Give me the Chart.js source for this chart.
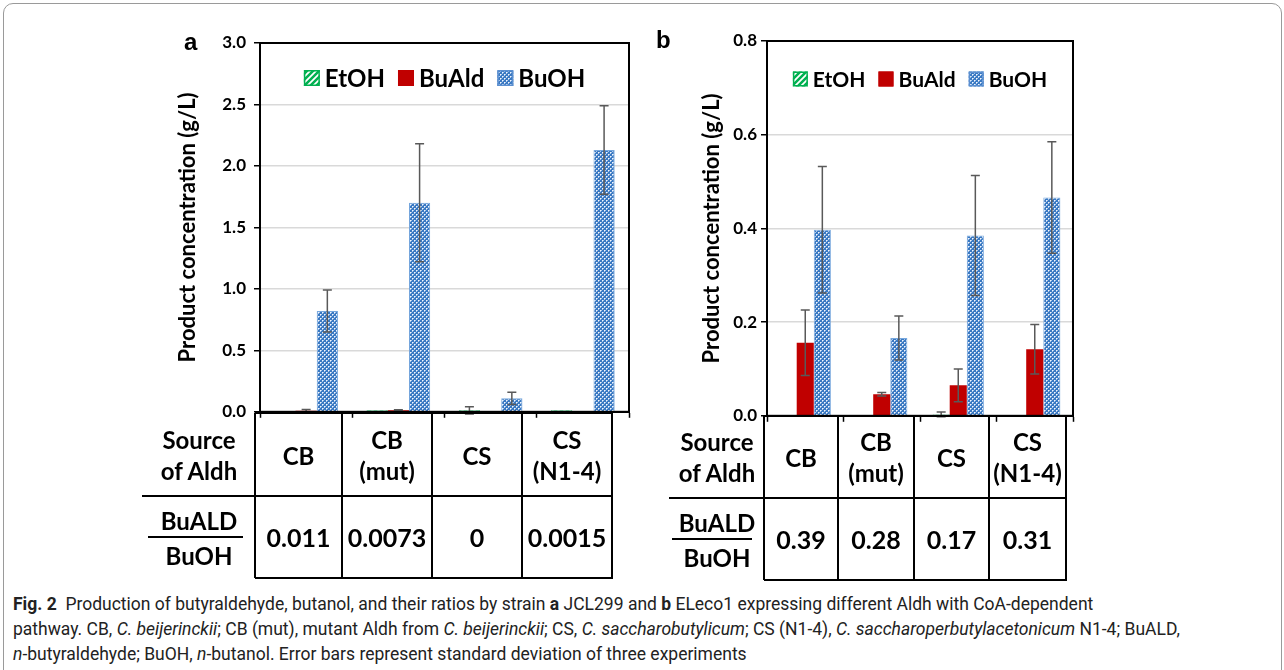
<!DOCTYPE html>
<html>
<head>
<meta charset="utf-8">
<script src="https://cdn.jsdelivr.net/npm/chart.js@4.4.1/dist/chart.umd.min.js"></script>
<style>
  body { margin: 0; background: #fff; width: 1284px; height: 670px; overflow: hidden; position: relative; font-family: Lato, sans-serif; }
  .frame { position: absolute; left: 3px; top: 3px; width: 1277px; height: 690px; border: 1px solid #9a9a9a; border-radius: 10px; }
  canvas { position: absolute; top: 0; }
  .t { position: absolute; font-weight: bold; color: #000; white-space: pre-line; text-align: center; line-height: 31px; transform: translate(-50%, -50%); }
  .ln { position: absolute; background: #000; }
  .panel { position: absolute; font-family: "Liberation Sans", Arial, sans-serif; font-weight: bold; font-size: 24px; }
  .cap { position: absolute; left: 13px; font-family: Roboto, sans-serif; font-size: 17.5px; color: #222; white-space: nowrap; }
</style>
</head>
<body>
<div class="frame"></div>
<canvas id="chartA" width="500" height="430" style="left:150px"></canvas>
<canvas id="chartB" width="440" height="430" style="left:650px"></canvas>
<div class="panel" style="left:184px;top:28px">a</div>
<div class="panel" style="left:656px;top:26px">b</div>
<div id="tables"></div>
<div class="cap" style="top:594px"><b>Fig. 2</b>&nbsp; Production of butyraldehyde, butanol, and their ratios by strain <b>a</b> JCL299 and <b>b</b> ELeco1 expressing different Aldh with CoA-dependent</div>
<div class="cap" style="top:619px">pathway. CB, <i>C. beijerinckii</i>; CB (mut), mutant Aldh from <i>C. beijerinckii</i>; CS, <i>C. saccharobutylicum</i>; CS (N1-4), <i>C. saccharoperbutylacetonicum</i> N1-4; BuALD,</div>
<div class="cap" style="top:644px"><i>n</i>-butyraldehyde; BuOH, <i>n</i>-butanol. Error bars represent standard deviation of three experiments</div>
<script>
const categories = ['CB', 'CB (mut)', 'CS', 'CS (N1-4)'];
const tableLabels = ['CB', 'CB\n(mut)', 'CS', 'CS\n(N1-4)'];
const seriesNames = ['EtOH', 'BuAld', 'BuOH'];

// panel a, strain JCL299 (g/L)
const etohA = [0.0, 0.012, 0.012, 0.012];
const etohErrA = [0, 0, 0.03, 0];
const buAldA = [0.009, 0.012, 0, 0.003];
const buAldErrA = [0.01, 0.005, 0, 0];
const buohA = [0.82, 1.70, 0.11, 2.13];
const buohErrA = [0.17, 0.48, 0.05, 0.36];
const ratioA = ['0.011', '0.0073', '0', '0.0015'];

// panel b, strain ELeco1 (g/L)
const etohB = [0, 0, 0.003, 0];
const etohErrB = [0, 0, 0.005, 0];
const buAldB = [0.156, 0.046, 0.065, 0.142];
const buAldErrB = [0.07, 0.004, 0.035, 0.053];
const buohB = [0.397, 0.166, 0.385, 0.466];
const buohErrB = [0.135, 0.047, 0.128, 0.119];
const ratioB = ['0.39', '0.28', '0.17', '0.31'];

const GREEN = '#00b050';
const RED = '#c00000';
const BLUE = '#3a79c2';

function dotPattern() {
    const c = document.createElement('canvas');
    c.width = 4; c.height = 4;
    const g = c.getContext('2d');
    g.fillStyle = BLUE;
    g.fillRect(0, 0, 4, 4);
    g.fillStyle = '#f2f6fc';
    g.fillRect(0, 0, 1, 1);
    g.fillRect(2, 2, 1, 1);
    g.fillStyle = '#a9c6ea';
    g.fillRect(1, 0, 1, 1);
    g.fillRect(0, 1, 1, 1);
    g.fillRect(3, 2, 1, 1);
    g.fillRect(2, 3, 1, 1);
    return g.createPattern(c, 'repeat');
}

function stripePattern() {
    const c = document.createElement('canvas');
    c.width = 6; c.height = 6;
    const g = c.getContext('2d');
    g.fillStyle = '#fff';
    g.fillRect(0, 0, 6, 6);
    g.strokeStyle = GREEN;
    g.lineWidth = 2.5;
    g.beginPath();
    g.moveTo(-1, 7); g.lineTo(7, -1);
    g.moveTo(-4, 4); g.lineTo(4, -4);
    g.moveTo(2, 10); g.lineTo(10, 2);
    g.stroke();
    return g.createPattern(c, 'repeat');
}

const errorBars = {
    id: 'errorBars',
    afterDatasetsDraw(chart, args, opts) {
        const ctx = chart.ctx;
        const y = chart.scales.y;
        ctx.save();
        ctx.strokeStyle = '#595959';
        ctx.lineWidth = 1.5;
        chart.data.datasets.forEach((ds, i) => {
            const meta = chart.getDatasetMeta(i);
            meta.data.forEach((bar, j) => {
                const e = ds.errors[j];
                if (!e) return;
                const v = ds.data[j];
                const top = y.getPixelForValue(v + e);
                const bot = y.getPixelForValue(v - e);
                ctx.beginPath();
                ctx.moveTo(bar.x, top); ctx.lineTo(bar.x, bot);
                ctx.moveTo(bar.x - 4.5, top); ctx.lineTo(bar.x + 4.5, top);
                ctx.moveTo(bar.x - 4.5, bot); ctx.lineTo(bar.x + 4.5, bot);
                ctx.stroke();
            });
        });
        ctx.restore();
    }
};

const boxAndLegend = {
    id: 'boxAndLegend',
    afterDraw(chart, args, opts) {
        const ctx = chart.ctx;
        const a = chart.chartArea;
        ctx.save();
        ctx.strokeStyle = '#000';
        ctx.lineWidth = 2;
        ctx.strokeRect(a.left, a.top, a.right - a.left, a.bottom - a.top);

        ctx.font = 'bold ' + opts.fontSize + 'px Lato';
        ctx.textBaseline = 'middle';
        const box = opts.box, gap = 5, space = 13;
        const items = chart.data.datasets.map(ds => ({ds, w: box + gap + ctx.measureText(ds.label).width}));
        const total = items.reduce((s, it) => s + it.w, 0) + space * (items.length - 1);
        let x = (a.left + a.right) / 2 - total / 2;
        const yc = opts.y;
        items.forEach(it => {
            ctx.fillStyle = it.ds.backgroundColor;
            ctx.fillRect(x, yc - box / 2, box, box);
            ctx.strokeStyle = it.ds.legendBorder;
            ctx.lineWidth = 1.5;
            ctx.strokeRect(x + 0.75, yc - box / 2 + 0.75, box - 1.5, box - 1.5);
            ctx.fillStyle = '#000';
            ctx.fillText(it.ds.label, x + box + gap, yc + 1);
            x += it.w + space;
        });
        ctx.restore();
    }
};

function makeChart(id, sets, o) {
    const datasets = sets.map((s, i) => ({
        label: seriesNames[i],
        data: s.data,
        errors: s.err,
        backgroundColor: [stripePattern(), RED, dotPattern()][i],
        borderColor: [GREEN, RED, '#76a7dd'][i],
        legendBorder: [GREEN, RED, '#5b8fd0'][i],
        borderWidth: i === 1 ? 0 : 1,
        categoryPercentage: o.catPct,
        barPercentage: 1.0
    }));
    return new Chart(document.getElementById(id), {
        type: 'bar',
        data: {labels: categories, datasets: datasets},
        plugins: [errorBars, boxAndLegend],
        options: {
            responsive: false,
            animation: false,
            devicePixelRatio: 1,
            layout: {padding: o.padding},
            plugins: {
                legend: {display: false},
                tooltip: {enabled: false},
                boxAndLegend: {fontSize: o.legendSize, box: o.legendBox, y: o.legendY}
            },
            scales: {
                x: {
                    ticks: {display: false},
                    grid: {offset: true, drawOnChartArea: false, tickLength: 6, tickColor: '#000', tickWidth: 1.5},
                    border: {color: '#000', width: 2},
                    afterFit: s => { s.height = o.xHeight; }
                },
                y: {
                    min: 0,
                    max: o.max,
                    ticks: {
                        stepSize: o.step,
                        padding: o.tickPad,
                        color: '#000',
                        font: {family: 'Lato', weight: 'bold', size: 17},
                        callback: v => v.toFixed(1)
                    },
                    grid: {color: '#d9d9d9', lineWidth: 1.5, tickColor: '#000', tickLength: 6, tickWidth: 1.5},
                    border: {color: '#000', width: 2},
                    title: {
                        display: true,
                        text: 'Product concentration (g/L)',
                        color: '#000',
                        padding: 2,
                        font: {family: 'Lato', weight: 'bold', size: 22}
                    },
                    afterFit: s => { s.width = o.yWidth; }
                }
            }
        }
    });
}

// tables under each panel
function addLine(x, y, w, h) {
    const d = document.createElement('div');
    d.className = 'ln';
    d.style.cssText = `left:${x}px;top:${y}px;width:${w}px;height:${h}px`;
    document.getElementById('tables').appendChild(d);
}
function addText(txt, x, y, size) {
    const d = document.createElement('div');
    d.className = 't';
    d.textContent = txt;
    d.style.cssText = `left:${x}px;top:${y}px;font-size:${size}px`;
    document.getElementById('tables').appendChild(d);
}
function buildTable(x0, cols, rows, ratios, frac) {
    const last = cols[cols.length - 1];
    cols.forEach(c => addLine(c - 1, rows[0], 2, rows[2] - rows[0]));
    addLine(cols[0], rows[0] - 1, last - cols[0] + 1, 2);
    addLine(x0, rows[1] - 1, last - x0 + 1, 2);
    addLine(cols[0], rows[2] - 1, last - cols[0] + 1, 2);
    const mid0 = (rows[0] + rows[1]) / 2, mid1 = (rows[1] + rows[2]) / 2;
    addText('Source\nof Aldh', frac.cx, mid0, 24);
    addText('BuALD', frac.cx, mid1 - 17, 24);
    addText('BuOH', frac.cx, mid1 + 18, 24);
    addLine(frac.x1, mid1 - 1, frac.x2 - frac.x1, 2);
    for (let i = 0; i < 4; i++) {
        const cx = (cols[i] + cols[i + 1]) / 2;
        addText(tableLabels[i], cx, mid0, 24);
        addText(ratios[i], cx, mid1, 25);
    }
}
buildTable(142, [255, 342, 432, 522, 612], [413, 496, 578], ratioA, {cx: 199, x1: 148, x2: 243});
buildTable(669, [764, 838, 914, 989, 1066], [416, 498, 580], ratioB, {cx: 717, x1: 672, x2: 752});

Promise.all([
    document.fonts.load('bold 17px Lato'),
    document.fonts.load('bold 24px Lato')
]).catch(() => {}).then(() => {
    makeChart('chartA', [
        {data: etohA, err: etohErrA},
        {data: buAldA, err: buAldErrA},
        {data: buohA, err: buohErrA}
    ], {max: 3, step: 0.5, catPct: 0.69, padding: {left: 23, top: 43, right: 21, bottom: 0},
        yWidth: 87, xHeight: 18, tickPad: 8, legendSize: 24, legendBox: 16, legendY: 78});

    makeChart('chartB', [
        {data: etohB, err: etohErrB},
        {data: buAldB, err: buAldErrB},
        {data: buohB, err: buohErrB}
    ], {max: 0.8, step: 0.2, catPct: 0.67, padding: {left: 47, top: 41, right: 17, bottom: 0},
        yWidth: 70, xHeight: 14, tickPad: 4, legendSize: 21, legendBox: 15, legendY: 79});
});
</script>
</body>
</html>
